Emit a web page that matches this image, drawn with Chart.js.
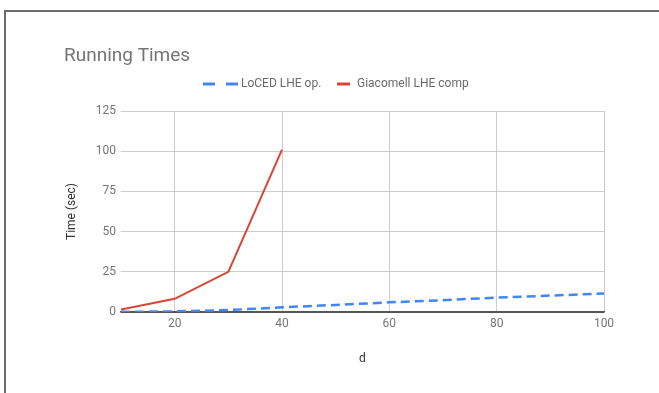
<!DOCTYPE html>
<html>
<head>
<meta charset="utf-8">
<script src="https://cdn.jsdelivr.net/npm/chart.js@4/dist/chart.umd.min.js"></script>
<style>
  html, body { margin: 0; padding: 0; background: #fff; }
  #wrap { position: relative; width: 659px; height: 393px; overflow: hidden; }
  #frame { position: absolute; left: 4px; top: 10px; width: 700px; height: 400px;
           border-left: 2px solid #6b6b6b; border-top: 2px solid #6b6b6b; box-sizing: border-box; }
  canvas { position: absolute; left: 0; top: 0; }
</style>
</head>
<body>
<div id="wrap">
  <div id="frame"></div>
  <canvas id="c" width="659" height="393"></canvas>
</div>
<script>
const chartTitle = "Running Times";
const seriesNames = ["LoCED LHE op.", "Giacomell LHE comp"];
const locedD = [10, 20, 30, 40, 50, 60, 70, 80, 90, 100];
const locedTimes = [0.1, 0.4, 1.2, 2.9, 4.4, 6.0, 7.3, 9.0, 10.2, 11.5];
const giacomelliD = [10, 20, 30, 40];
const giacomelliTimes = [1.5, 8.2, 25, 101];
const xTicks = [20, 40, 60, 80, 100];
const yTicks = [0, 25, 50, 75, 100, 125];
const xTitle = "d";
const yTitle = "Time (sec)";

const BLUE = "#4285f4";
const RED = "#db4437";
const FONT = "Roboto, 'Noto Sans', sans-serif";

const legendPlugin = {
  id: "customLegend",
  afterDraw(chart) {
    const ctx = chart.ctx;
    ctx.save();
    // title
    ctx.font = "19px " + FONT;
    ctx.fillStyle = "#757575";
    ctx.textBaseline = "alphabetic";
    ctx.textAlign = "left";
    ctx.fillText(chartTitle, 64, 61);
    // legend
    const y = 84;
    ctx.lineWidth = 3;
    ctx.strokeStyle = BLUE;
    ctx.beginPath();
    ctx.moveTo(203, y); ctx.lineTo(215, y);
    ctx.moveTo(226, y); ctx.lineTo(238, y);
    ctx.stroke();
    ctx.strokeStyle = RED;
    ctx.beginPath();
    ctx.moveTo(337, y); ctx.lineTo(350, y);
    ctx.stroke();
    ctx.font = "12px " + FONT;
    ctx.fillStyle = "#6a6a6a";
    ctx.textBaseline = "middle";
    ctx.fillText(seriesNames[0], 241, y);
    ctx.fillText(seriesNames[1], 357, y);
    ctx.restore();
  }
};

new Chart(document.getElementById("c"), {
  type: "line",
  data: {
    datasets: [
      {
        label: seriesNames[0],
        data: locedD.map((d, i) => ({ x: d, y: locedTimes[i] })),
        borderColor: BLUE,
        borderWidth: 2.5,
        borderDash: [9, 5],
        pointRadius: 0,
        tension: 0,
        fill: false
      },
      {
        label: seriesNames[1],
        data: giacomelliD.map((d, i) => ({ x: d, y: giacomelliTimes[i] })),
        borderColor: RED,
        borderWidth: 2,
        pointRadius: 0,
        tension: 0,
        fill: false
      }
    ]
  },
  options: {
    responsive: false,
    animation: false,
    layout: { padding: { left: 0, right: 55, top: 111, bottom: 0 } },
    plugins: { legend: { display: false }, tooltip: { enabled: false }, title: { display: false } },
    scales: {
      x: {
        type: "linear",
        min: 10, max: 100,
        afterBuildTicks: (s) => { s.ticks = xTicks.map(v => ({ value: v })); },
        afterFit: (s) => { s.height = 81; },
        grid: { color: "#cccccc", lineWidth: 1, drawTicks: false },
        border: { display: true, color: "#555555", width: 1.5 },
        ticks: { color: "#757575", font: { family: FONT, size: 12 }, padding: 5, maxRotation: 0 },
        title: { display: true, text: xTitle, color: "#333333", font: { family: FONT, size: 12 }, padding: { top: 0, bottom: 27 } }
      },
      y: {
        type: "linear",
        min: 0, max: 125,
        afterBuildTicks: (s) => { s.ticks = yTicks.map(v => ({ value: v })); },
        afterFit: (s) => { s.width = 121; },
        grid: { color: (c) => (c.tick && c.tick.value === 0 ? "#555555" : "#cccccc"), lineWidth: 1, drawTicks: false },
        border: { display: false },
        ticks: { color: "#757575", font: { family: FONT, size: 12 }, padding: 5 },
        title: { display: true, text: yTitle, color: "#333333", font: { family: FONT, size: 12 }, padding: { top: 65, bottom: 0 } }
      }
    }
  },
  plugins: [legendPlugin]
});
</script>
</body>
</html>
